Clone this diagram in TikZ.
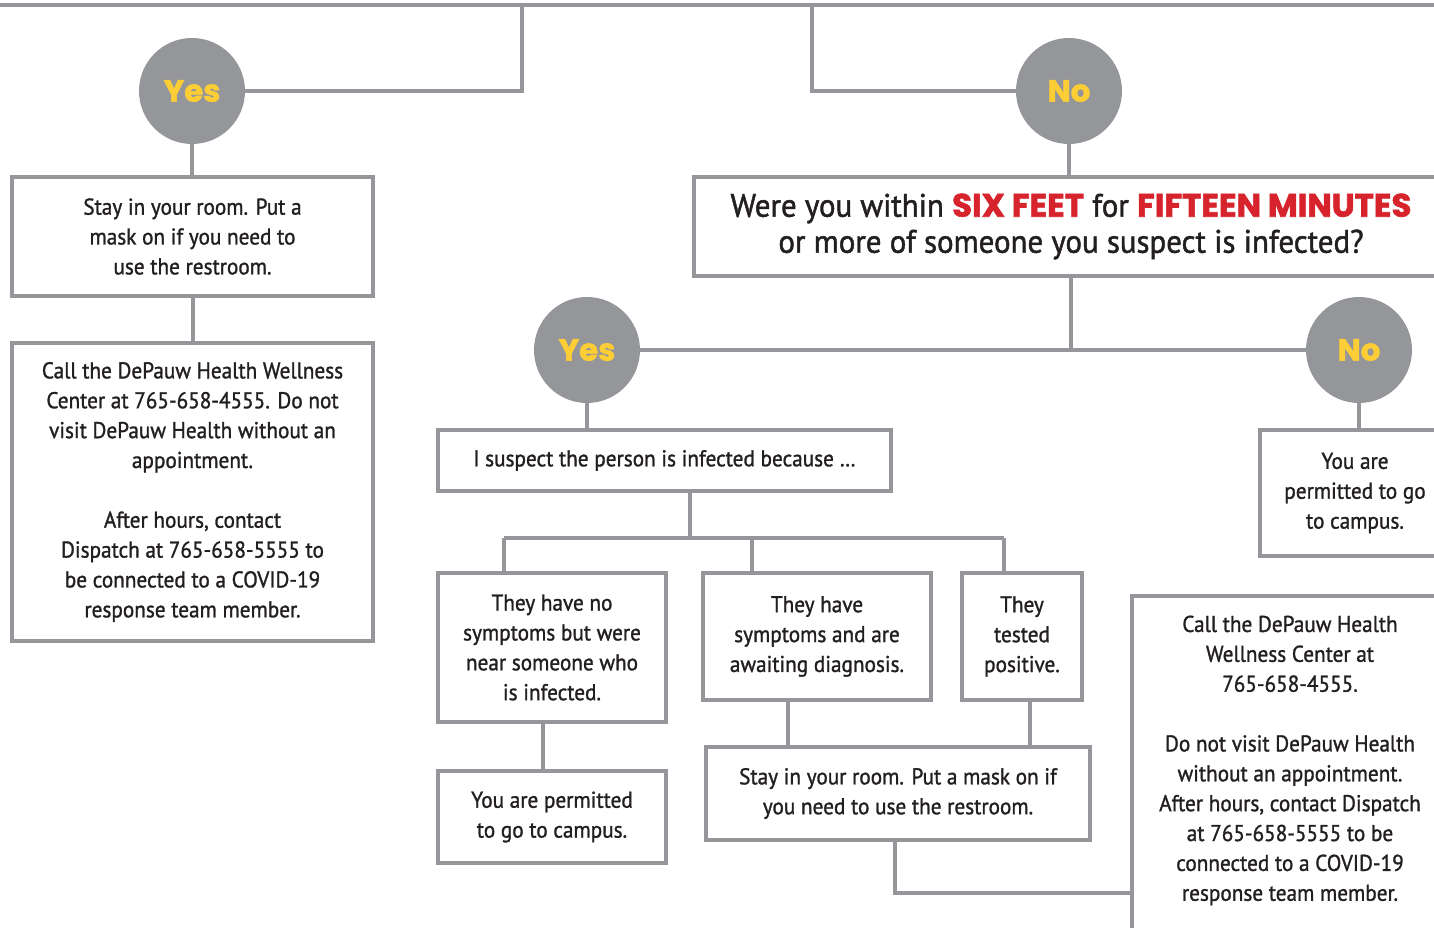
\documentclass[tikz,border=0pt]{standalone}
\usepackage{fontspec}
\setmainfont{PT Sans}[FakeStretch=0.93, FakeBold=1.2]
\newfontfamily\questfont{PT Sans}[FakeStretch=0.95, FakeBold=1.4]
\newfontfamily\answerfont{Poppins}[BoldFeatures={FakeBold=1.8}]
\usetikzlibrary{positioning,calc}
\definecolor{LineGray}{RGB}{149,150,154}
\definecolor{AnswerYellow}{RGB}{252,205,52}
\definecolor{AlertRed}{RGB}{214,35,44}
\definecolor{InkBlack}{RGB}{35,31,32}
\newcommand{\redword}[1]{{\answerfont\bfseries\color{AlertRed}#1}}

\begin{document}
\begin{tikzpicture}[x=0.02cm, y=-0.02cm,
  every node/.style={font=\fontsize{13}{17}\selectfont, text=InkBlack},
  box/.style={draw=LineGray, line width=0.08cm, fill=white, align=center, inner sep=0pt},
  answer/.style={circle, fill=LineGray, minimum size=2.12cm, inner sep=0pt, text=AnswerYellow,
    font=\answerfont\bfseries\fontsize{17.5}{20}\selectfont},
  link/.style={draw=LineGray, line width=0.08cm}]
\useasboundingbox (0,0) rectangle (1434,928);
\clip (0,0) rectangle (1434,928);

% answers
\node[answer] (yesL) at (192,91) {Yes};
\node[answer] (noT) at (1069,91) {No};
\node[answer] (yesM) at (587,350) {Yes};
\node[answer] (noR) at (1359,350) {No};

% left column
\node[box, minimum width=7.22cm, minimum height=2.38cm] (stayL) at (192.5,236.5)
  {Stay in your room. Put a\\ mask on if you need to\\ use the restroom.};
\node[box, minimum width=7.22cm, minimum height=5.96cm] (callL) at (192.5,492)
  {Call the DePauw Health Wellness\\ Center at 765-658-4555. Do not\\ visit DePauw Health without an\\ appointment.\\[17pt]
   After hours, contact\\ Dispatch at 765-658-5555 to\\ be connected to a COVID-19\\ response team member.};

% question
\node[box, minimum width=15.08cm, minimum height=1.98cm,
  font=\questfont\fontsize{18.5}{20.5}\selectfont] (quest) at (1071,226.5)
  {Were you within \redword{SIX FEET} for \redword{FIFTEEN MINUTES}\\ or more of someone you suspect is infected?};

% yes side
\node[box, minimum width=9.06cm, minimum height=1.22cm] (suspect) at (664.5,460.5)
  {I suspect the person is infected because \dots};
\node[box, minimum width=4.56cm, minimum height=2.98cm] (noSym) at (552,647.5)
  {They have no\\ symptoms but were\\ near someone who\\ is infected.};
\node[box, minimum width=4.56cm, minimum height=2.54cm] (hasSym) at (817,636.5)
  {They have\\ symptoms and are\\ awaiting diagnosis.};
\node[box, minimum width=2.4cm, minimum height=2.54cm] (tested) at (1022,636.5)
  {They\\ tested\\ positive.};
\node[box, minimum width=4.56cm, minimum height=1.84cm] (permitA) at (552,817)
  {You are permitted\\ to go to campus.};
\node[box, minimum width=7.68cm, minimum height=1.86cm] (stayR) at (898,793.5)
  {Stay in your room. Put a mask on if\\ you need to use the restroom.};

% no side
\node[box, minimum width=3.8cm, minimum height=2.52cm] (permitR) at (1355,493)
  {You are\\ permitted to go\\ to campus.};
\node[box, minimum width=6.32cm, minimum height=7.28cm] (callRbox) at (1290,778) {};
\node[align=center] (callR) at (1290,760.5)
  {Call the DePauw Health\\ Wellness Center at\\ 765-658-4555.\\[17pt]
   Do not visit DePauw Health\\ without an appointment.\\ After hours, contact Dispatch\\ at 765-658-5555 to be\\ connected to a COVID-19\\ response team member.};

% forks and joins
\coordinate (topL) at (-20,5);
\coordinate (topR) at (1454,5);
\coordinate (forkL) at (522,5);
\coordinate (forkR) at (812,5);
\coordinate (split) at (690,538);
\coordinate (barL) at (504,538);
\coordinate (barM) at (752,538);
\coordinate (barR) at (1004,538);
\coordinate (joinF) at (1132,893);

% connectors
\draw[link] (topL) -- (topR);
\draw[link] (forkL) |- (yesL);
\draw[link] (forkR) |- (noT);
\draw[link] (yesL) -- (yesL |- stayL.north);
\draw[link] (stayL) -- (callL);
\draw[link] (noT) -- (noT |- quest.north);
\draw[link] (quest.south) -- (quest.south |- yesM);
\draw[link] (yesM) -- (noR);
\draw[link] (yesM) -- (yesM |- suspect.north);
\draw[link] (noR) -- (noR |- permitR.north);
\draw[link] (suspect.south -| split) -- (split);
\draw[link] (barL) -- (barR);
\draw[link] (barL) -- (barL |- noSym.north);
\draw[link] (barM) -- (barM |- hasSym.north);
\draw[link] (barR) -- (barR |- tested.north);
\draw[link] ([xshift=-0.18cm]noSym.south) -- ([xshift=-0.18cm]noSym.south |- permitA.north);
\draw[link] ([xshift=-0.58cm]hasSym.south) -- ([xshift=-0.58cm]hasSym.south |- stayR.north);
\draw[link] ([xshift=0.16cm]tested.south) -- ([xshift=0.16cm]tested.south |- stayR.north);
\draw[link] ([xshift=-0.06cm]stayR.south) |- (joinF);
\end{tikzpicture}
\end{document}
